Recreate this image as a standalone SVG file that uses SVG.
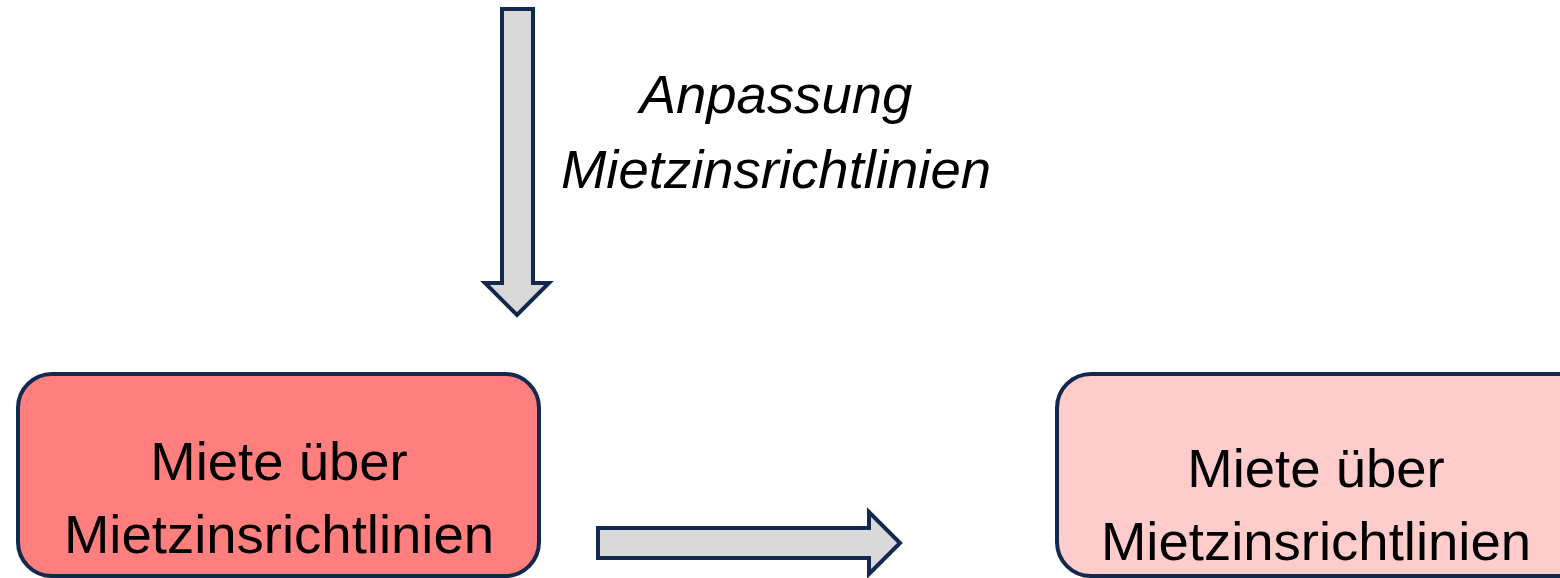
<svg xmlns="http://www.w3.org/2000/svg" width="1560" height="578" viewBox="0 0 1560 578">
<style>
.box{stroke:#13284f;stroke-width:4}
.arrow{fill:#d9d9d9;stroke:#13284f;stroke-width:4;stroke-linejoin:miter}
.t{font-family:"Liberation Sans",Arial,sans-serif;font-size:54.5px;fill:#000;text-anchor:middle}
.it{font-style:italic}
</style>
<rect width="1560" height="578" fill="#fff"/>
<g id="connectors">
<path class="arrow" d="M502,9 H533 V283 H549 L517,315 L485,283 H502 Z"/>
<path class="arrow" d="M598,528 H869 V512 L900,543 L869,574 V558 H598 Z"/>
</g>
<g id="label-anpassung">
<text class="t it" x="776" y="113">Anpassung</text>
<text class="t it" x="776" y="188">Mietzinsrichtlinien</text>
</g>
<g id="node-left">
<rect class="box" x="18" y="374" width="521" height="202" rx="34" fill="#ff7f7f"/>
<text class="t" x="279" y="480">Miete über</text>
<text class="t" x="279" y="553">Mietzinsrichtlinien</text>
</g>
<g id="node-right">
<rect class="box" x="1057" y="374" width="540" height="202" rx="34" fill="#ffcccc"/>
<text class="t" x="1316" y="487">Miete über</text>
<text class="t" x="1316" y="560">Mietzinsrichtlinien</text>
</g>
</svg>
